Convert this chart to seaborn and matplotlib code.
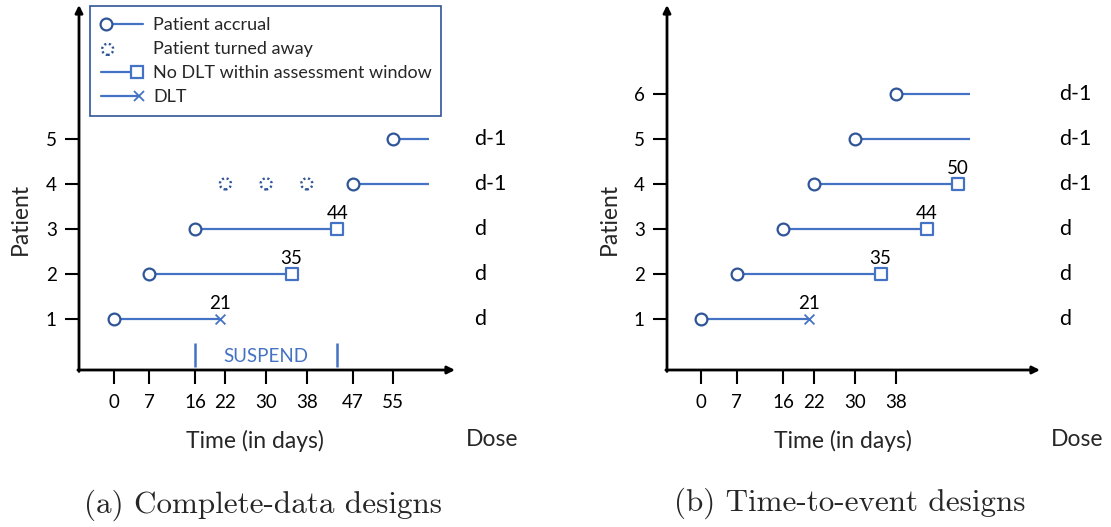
import numpy as np
import pandas as pd
import matplotlib
matplotlib.use("Agg")
import matplotlib.pyplot as plt
import seaborn as sns
from matplotlib.lines import Line2D
from matplotlib.legend_handler import HandlerLine2D, HandlerPathCollection

# ---------------- data ----------------
# Panel (a): complete-data designs
a_patient = [1, 2, 3, 4, 5]
a_start = [0, 7, 16, 47, 55]
a_end = [21, 35, 44, 62, 62]
a_outcome = ["DLT", "NoDLT", "NoDLT", "open", "open"]
a_dose = ["d", "d", "d", "d-1", "d-1"]
a_xticks = [0, 7, 16, 22, 30, 38, 47, 55]
a_turned_days = [22, 30, 38]
a_turned_patient = [4, 4, 4]
a_suspend = [16, 44]

# Panel (b): time-to-event designs
b_patient = [1, 2, 3, 4, 5, 6]
b_start = [0, 7, 16, 22, 30, 38]
b_end = [21, 35, 44, 50, 52.4, 52.4]
b_outcome = ["DLT", "NoDLT", "NoDLT", "NoDLT", "open", "open"]
b_dose = ["d", "d", "d", "d-1", "d-1", "d-1"]
b_xticks = [0, 7, 16, 22, 30, 38]

legend_labels = ["Patient accrual", "Patient turned away",
                 "No DLT within assessment window", "DLT"]

# ---------------- style ----------------
sns.set_theme(style="ticks")
plt.rcParams["font.family"] = ["Lato", "DejaVu Sans"]

LINE = "#4472C4"
DARK = "#2F5597"
W, H = 1111, 527
fig = plt.figure(figsize=(W / 100, H / 100), dpi=100)

FS_TICK = 13.5
FS_LABEL = 16.5
FS_DOSE = 15.5
FS_NOTE = 13.5


def px_axes(x0, x1, y_top, y_bot):
    return fig.add_axes([x0 / W, (H - y_bot) / H, (x1 - x0) / W, (y_bot - y_top) / H])


def draw_panel(ax, patient, start, end, outcome, dose, xticks, xlim, ylim):
    df = pd.DataFrame(dict(patient=patient, start=start, end=end,
                           outcome=outcome, dose=dose))
    ax.set_xlim(*xlim)
    ax.set_ylim(*ylim)
    ax.hlines(df["patient"], df["start"], df["end"], color=LINE, lw=1.6, zorder=2)
    sq = df[df["outcome"] == "NoDLT"]
    sns.scatterplot(data=sq, x="end", y="patient", marker="s", s=80, color="white",
                    edgecolor=LINE, linewidth=1.6, zorder=3, ax=ax, legend=False)
    dl = df[df["outcome"] == "DLT"]
    sns.scatterplot(data=dl, x="end", y="patient", marker="x", s=50, color=LINE,
                    linewidth=1.3, zorder=3, ax=ax, legend=False)
    sns.scatterplot(data=df, x="start", y="patient", marker="o", s=72, color="white",
                    edgecolor=DARK, linewidth=1.6, zorder=4, ax=ax, legend=False)
    # end value labels
    for _, r in df[df["outcome"] != "open"].iterrows():
        ax.annotate(f"{r['end']:g}", (r["end"], r["patient"]), xytext=(0, 7),
                    textcoords="offset points", ha="center", va="baseline",
                    fontsize=FS_NOTE, color="black")
    # dose labels
    for _, r in df.iterrows():
        ax.text(1.05, r["patient"], r["dose"], transform=ax.get_yaxis_transform(),
                ha="left", va="center", fontsize=FS_DOSE, color="black", clip_on=False)
    ax.set_xticks(xticks)
    ax.set_yticks(patient)
    ax.tick_params(axis="both", direction="out", length=10, width=1.5,
                   labelsize=FS_TICK, color="black", labelcolor="black")
    ax.tick_params(axis="x", pad=7)
    ax.tick_params(axis="y", pad=6)
    for s in ax.spines.values():
        s.set_visible(False)
    ax.set_xlabel("Time (in days)", fontsize=FS_LABEL)
    ax.set_ylabel("Patient", fontsize=FS_LABEL)
    ax.yaxis.set_label_coords(-0.127, 0.415)
    ax.text(1.10, -0.163, "Dose", transform=ax.transAxes, ha="center", va="top",
            fontsize=FS_LABEL)
    # axis arrows
    ap = dict(arrowstyle="-|>", lw=2, color="black", mutation_scale=11,
              shrinkA=0, shrinkB=0)
    ax.annotate("", xy=(1, 0), xytext=(-0.003, 0), xycoords="axes fraction",
                arrowprops=ap, annotation_clip=False)
    ax.annotate("", xy=(0, 1), xytext=(0, -0.004), xycoords="axes fraction",
                arrowprops=ap, annotation_clip=False)
    ax.set_facecolor("none")
    return df


ylim = (-0.132, 7.97)
axA = px_axes(79, 455, 5, 370)
draw_panel(axA, a_patient, a_start, a_end, a_outcome, a_dose, a_xticks,
           ((79 - 113.5) / 5.087, (455 - 113.5) / 5.087), ylim)
axA.xaxis.set_label_coords(0.468, -0.163)

axB = px_axes(667, 1040, 5, 370)
draw_panel(axB, b_patient, b_start, b_end, b_outcome, b_dose, b_xticks,
           ((667 - 701) / 5.13, (1040 - 701) / 5.13), ylim)
axB.xaxis.set_label_coords(0.472, -0.163)

# turned-away patients (dotted circles)
turned = pd.DataFrame(dict(day=a_turned_days, patient=a_turned_patient))
sns.scatterplot(data=turned, x="day", y="patient", marker="o", s=64, color="white",
                edgecolor=DARK, linewidth=1.7, linestyle=(0, (0.9, 1.1)), zorder=3,
                ax=axA, legend=False)
turned_handle = axA.collections[-1]

# suspend interval
axA.vlines(a_suspend, -0.07, 0.47, color=LINE, lw=1.8)
axA.text(np.mean(a_suspend), 0.17, "SUSPEND", ha="center", va="center",
         fontsize=13.5, color=LINE)


# ---------------- legend ----------------
class EndMarkHandler(HandlerLine2D):
    def __init__(self, side, inset=4.3, **kw):
        super().__init__(numpoints=1, **kw)
        self.side = side
        self.inset = inset

    def create_artists(self, legend, orig_handle, xdescent, ydescent, width,
                       height, fontsize, trans):
        arts = super().create_artists(legend, orig_handle, xdescent, ydescent,
                                      width, height, fontsize, trans)
        for a in arts:
            x = np.asarray(a.get_xdata(), dtype=float)
            if self.side == "left":
                x[0] += self.inset
                a.set_markevery([0])
            else:
                x[-1] -= self.inset
                a.set_markevery([len(x) - 1])
            a.set_xdata(x)
        return arts


class LeftScatterHandler(HandlerPathCollection):
    def get_xdata(self, legend, xdescent, ydescent, width, height, fontsize):
        x = -xdescent + 5
        return [x], [x]


h_accr = Line2D([], [], color=LINE, lw=1.6, marker="o", markersize=8.5,
                markerfacecolor="white", markeredgecolor=DARK, markeredgewidth=1.6)
h_nodlt = Line2D([], [], color=LINE, lw=1.6, marker="s", markersize=9,
                 markerfacecolor="white", markeredgecolor=LINE, markeredgewidth=1.6)
h_dlt = Line2D([], [], color=LINE, lw=1.6, marker="x", markersize=7,
               markeredgecolor=LINE, markeredgewidth=1.3)

leg = axA.legend([h_accr, turned_handle, h_nodlt, h_dlt], legend_labels,
                 loc="upper left", bbox_to_anchor=(0.029, 0.997, 0.934, 0.0),
                 mode="expand", borderaxespad=0, fontsize=13, frameon=True,
                 fancybox=False, framealpha=1, edgecolor=DARK,
                 handlelength=2.35, handletextpad=0.55, labelspacing=0.45,
                 borderpad=0.6,
                 handler_map={h_accr: EndMarkHandler("left", inset=4.0),
                              h_nodlt: EndMarkHandler("right", inset=4.3),
                              h_dlt: EndMarkHandler("right", inset=3.0),
                              turned_handle: LeftScatterHandler()})
leg.get_frame().set_linewidth(1.2)

# captions
fig.text(263 / W, 1 - 505 / H, "(a) Complete-data designs", ha="center", va="center",
         fontsize=22.4, family="cmr10")
fig.text(850 / W, 1 - 503 / H, "(b) Time-to-event designs", ha="center", va="center",
         fontsize=22.4, family="cmr10")

fig.savefig("out.png", dpi=100)
